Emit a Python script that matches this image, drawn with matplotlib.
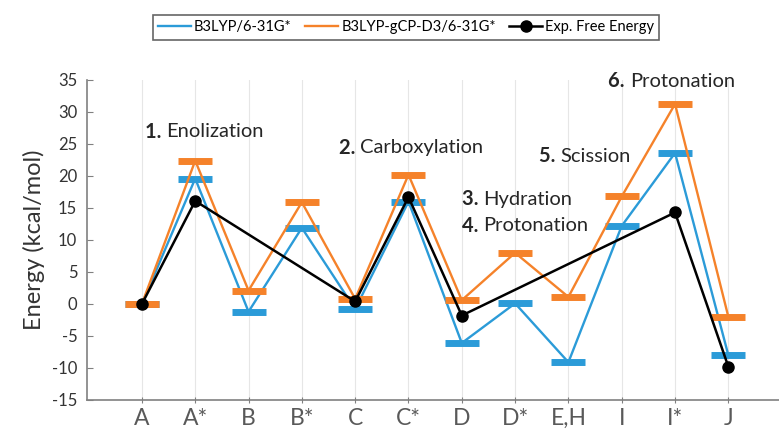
import matplotlib.pyplot as plt

plt.rcParams['font.family'] = ['Lato', 'DejaVu Sans']
plt.rcParams['axes.unicode_minus'] = False

# categories along the reaction path
states = ['A', 'A*', 'B', 'B*', 'C', 'C*', 'D', 'D*', 'E,H', 'I', 'I*', 'J']

# B3LYP/6-31G*
b3lyp = [0, 19.6, -1.2, 11.9, -0.8, 16.0, -6.1, 0.1, -9.1, 12.2, 23.6, -8.0]
# B3LYP-gCP-D3/6-31G*
b3lyp_d3 = [0, 22.4, 2.1, 15.9, 0.8, 20.2, 0.6, 8.0, 1.1, 16.8, 31.25, -2.0]
# experimental free energy (only some states)
exp_states = ['A', 'A*', 'C', 'C*', 'D', 'I*', 'J']
exp_energy = [0, 16.1, 0.4, 16.7, -1.8, 14.3, -9.8]

# step labels: (number, name, x start, y)
steps = [('1.', 'Enolization', 0.05, 26.9),
         ('2.', 'Carboxylation', 3.7, 24.4),
         ('3.', 'Hydration', 6.0, 16.4),
         ('4.', 'Protonation', 6.0, 12.2),
         ('5.', 'Scission', 7.45, 23.1),
         ('6.', 'Protonation', 8.75, 34.8)]

blue = '#2B9BD8'
orange = '#F5822A'

fig = plt.figure(figsize=(7.79, 4.32), dpi=100)
ax = fig.add_axes([87/779, 1 - 400/432, 1 - 87/779, 320/432])

x = list(range(len(states)))
xe = [states.index(s) for s in exp_states]

ax.plot(x, b3lyp, color=blue, lw=1.7, marker='_', ms=24, mew=5,
        label='B3LYP/6-31G*', zorder=2)
ax.plot(x, b3lyp_d3, color=orange, lw=1.7, marker='_', ms=24, mew=5,
        label='B3LYP-gCP-D3/6-31G*', zorder=3)
ax.plot(xe, exp_energy, color='black', lw=1.8, marker='o', ms=8,
        label='Exp. Free Energy', zorder=4)

for num, name, tx, ty in steps:
    t = ax.text(tx, ty, num + ' ', fontsize=14.5, fontweight='bold',
                color='#262626', va='center')
    ax.annotate(name, xycoords=t, xy=(1, 0.5), va='center', fontsize=14.5,
                color='#262626')

ax.set_xlim(-1.03, 11.95)
ax.set_ylim(-15, 35)
ax.set_yticks(range(-15, 36, 5))
ax.set_xticks(x)
ax.set_xticklabels(states, fontsize=16.5, color='#595959')
ax.tick_params(axis='y', labelsize=12, labelcolor='#333333', color='#808080',
               direction='in', length=4, pad=7)
ax.tick_params(axis='x', direction='inout', length=5, color='#808080', pad=3)
ax.grid(axis='x', color='#E6E6E6', lw=0.8)
ax.set_axisbelow(True)
for side in ['top', 'right']:
    ax.spines[side].set_visible(False)
for side in ['left', 'bottom']:
    ax.spines[side].set_color('#808080')
    ax.spines[side].set_linewidth(1.2)
ax.set_ylabel('Energy (kcal/mol)', fontsize=17, color='#333333', labelpad=5)

leg = fig.legend(loc='center', bbox_to_anchor=(406/779, 1 - 27.5/432), ncol=3,
                 fontsize=10.5, frameon=True, fancybox=False, edgecolor='#404040',
                 handlelength=2.3, handletextpad=0.2, columnspacing=0.9,
                 borderpad=0.35)
leg.get_frame().set_linewidth(1.2)
for h in leg.legend_handles:
    if h.get_marker() == '_':
        h.set_marker('None')

fig.savefig('out.png', dpi=100)
